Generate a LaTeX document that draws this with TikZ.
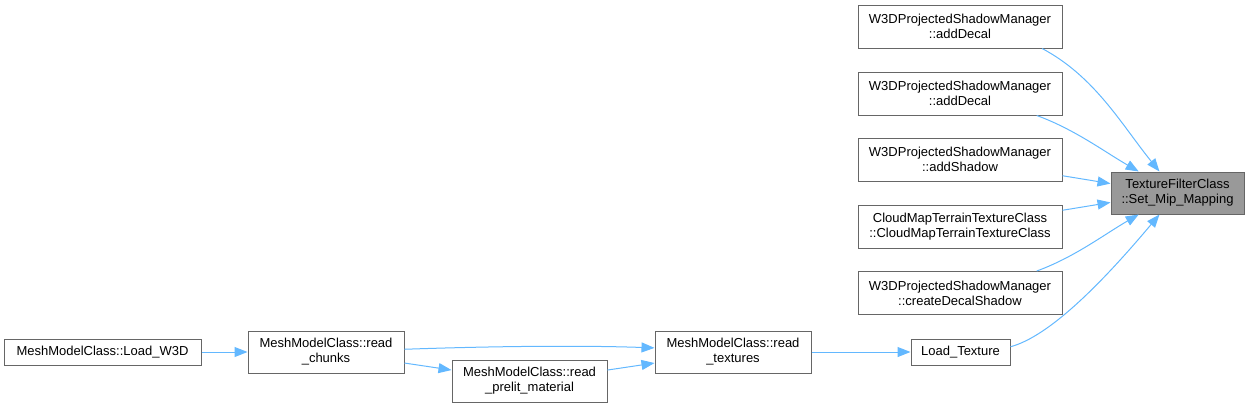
\documentclass[tikz,border=0pt]{standalone}
\usepackage{fontspec}
\setmainfont{Liberation Sans}
\usetikzlibrary{arrows.meta}
\definecolor{edgeblue}{HTML}{63B8FF}
\definecolor{boxgray}{HTML}{666666}
\definecolor{rootfill}{HTML}{999999}
\begin{document}
\begin{tikzpicture}[x = .75pt, y = .75pt,
  fn/.style = {draw = boxgray, line width = .75pt, fill = white, align = center, inner sep = 0pt, font = \fontsize{9.75}{11.25}\selectfont},
  call/.style = {-{Triangle[length = 9.75pt, width = 7.5pt]}, draw = edgeblue, line width = .75pt}]
\useasboundingbox (0,0) rectangle (1250,-408);
\node[fn, minimum width = 153pt, minimum height = 32.25pt] (addDecalA) at (960,-26.5) {W3DProjectedShadowManager\\::addDecal};
\node[fn, minimum width = 153pt, minimum height = 32.25pt] (addDecalB) at (960,-93.5) {W3DProjectedShadowManager\\::addDecal};
\node[fn, minimum width = 153pt, minimum height = 32.25pt] (addShadow) at (960,-159.5) {W3DProjectedShadowManager\\::addShadow};
\node[fn, minimum width = 153pt, minimum height = 32.25pt] (cloudMap) at (960,-226.5) {CloudMapTerrainTextureClass\\::CloudMapTerrainTextureClass};
\node[fn, minimum width = 153pt, minimum height = 32.25pt] (createDecal) at (960,-293) {W3DProjectedShadowManager\\::createDecalShadow};
\node[fn, fill = rootfill, minimum width = 99.75pt, minimum height = 31.5pt] (setMip) at (1177.5,-193) {TextureFilterClass\\::Set\_Mip\_Mapping};
\node[fn, minimum width = 74.25pt, minimum height = 19.5pt] (loadTexture) at (960.5,-352) {Load\_Texture};
\node[fn, minimum width = 117pt, minimum height = 31.5pt] (readTextures) at (733,-352) {MeshModelClass::read\\\_textures};
\node[fn, minimum width = 116.25pt, minimum height = 31.5pt] (readPrelit) at (529.5,-381) {MeshModelClass::read\\\_prelit\_material};
\node[fn, minimum width = 117pt, minimum height = 31.5pt] (readChunks) at (326,-352) {MeshModelClass::read\\\_chunks};
\node[fn, minimum width = 147.75pt, minimum height = 19.5pt] (loadWThreeD) at (102.5,-352) {MeshModelClass::Load\_W3D};
\draw[call] (loadWThreeD) -- (readChunks);
\draw[call] (readChunks.2) .. controls +(2:80) and +(178:80) .. (readTextures.177);
\draw[call] (readChunks.-8) -- (readPrelit.172);
\draw[call] (readPrelit.8) -- (readTextures.-172);
\draw[call] (readTextures) -- (loadTexture);
\draw[call] (loadTexture.6) .. controls +(15:40) and +(230:90) .. (setMip.-130);
\draw[call] (addDecalA.-15) .. controls +(-28:60) and +(129:60) .. (setMip.130);
\draw[call] (addDecalB.-16) .. controls +(-20:40) and +(150:40) .. (setMip.151);
\draw[call] (addShadow.-9) -- (setMip.172);
\draw[call] (cloudMap.9) -- (setMip.-172);
\draw[call] (createDecal.16) .. controls +(20:40) and +(-150:40) .. (setMip.-151);
\end{tikzpicture}
\end{document}
